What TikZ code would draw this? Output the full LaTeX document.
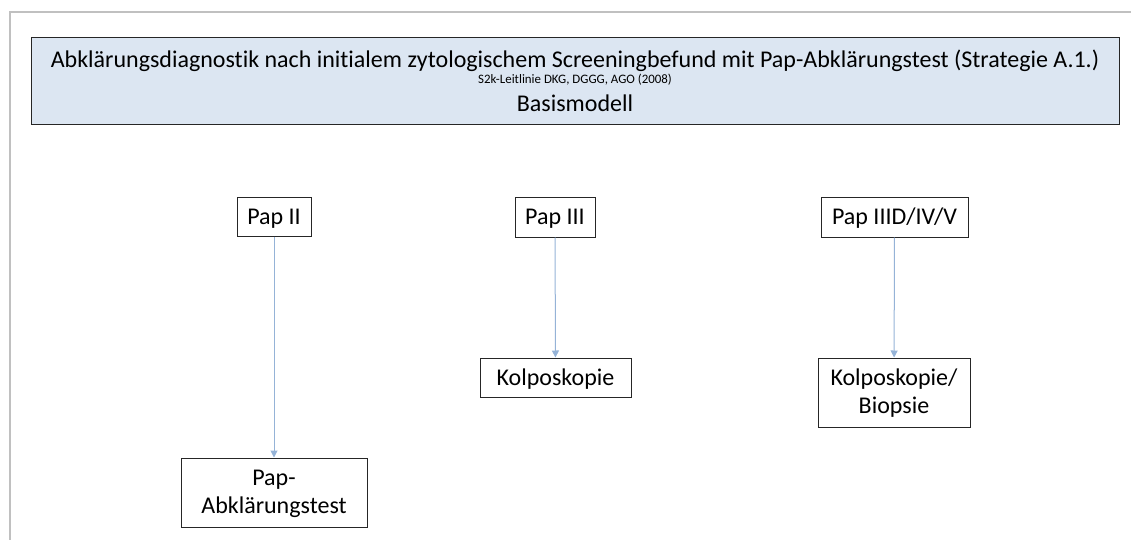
\documentclass[tikz,border=0pt]{standalone}
\usepackage{fontspec}
\setmainfont{Carlito}[Ligatures=NoCommon]
\usetikzlibrary{arrows.meta}
\definecolor{framegray}{HTML}{C0C0C0}
\definecolor{titlefill}{HTML}{DCE6F2}
\definecolor{arrowblue}{HTML}{95B3D7}
\tikzset{
  box/.style={draw=black!85, line width=1pt, fill=white, inner sep=0pt, align=center, font=\fontsize{24}{28}\selectfont},
  oneline/.style={text height=18pt, text depth=2.5pt},
  twoline/.style={text depth=2pt},
  conn/.style={draw=arrowblue, line width=1pt, -{Triangle[length=7pt,width=7pt]}},
}
\begin{document}
\begin{tikzpicture}[x=1pt,y=-1pt]
\useasboundingbox (0,0) rectangle (1131,540);
\draw[framegray, line width=1.2pt] (1131,12) -- (10,12) -- (10,540);
\node[box, fill=titlefill, minimum width=1088pt, minimum height=87pt] (title) at (575,81.5) {};
\node[font=\fontsize{24}{26}\selectfont, anchor=base, inner sep=0pt] (t1) at (575,67.5) {Abklärungsdiagnostik nach initialem zytologischem Screeningbefund mit Pap-Abklärungstest (Strategie A.1.)};
\node[font=\fontsize{12.9}{14}\selectfont, anchor=base, inner sep=0pt] (t2) at (575,84) {S2k-Leitlinie DKG, DGGG, AGO (2008)};
\node[font=\fontsize{24}{26}\selectfont, anchor=base, inner sep=0pt] (t3) at (575,112) {Basismodell};
\node[box, oneline, minimum width=74pt, minimum height=39pt] (p2) at (274,216.5) {Pap II};
\node[box, oneline, minimum width=80pt, minimum height=40pt] (p3) at (555,217) {Pap III};
\node[box, oneline, minimum width=147pt, minimum height=40pt] (p4) at (894.5,217) {Pap IIID/IV/V};
\node[box, twoline, minimum width=186pt, minimum height=69pt] (b2) at (274,492.5) {Pap-\\Abklärungstest};
\node[box, oneline, minimum width=151pt, minimum height=39pt] (b3) at (555.5,377.5) {Kolposkopie};
\node[box, twoline, minimum width=152pt, minimum height=69pt] (b4) at (894,392.5) {Kolposkopie/\\Biopsie};
\draw[conn] (p2) -- (b2);
\draw[conn] (p3) -- (b3);
\draw[conn] (p4) -- (b4);
\end{tikzpicture}
\end{document}
